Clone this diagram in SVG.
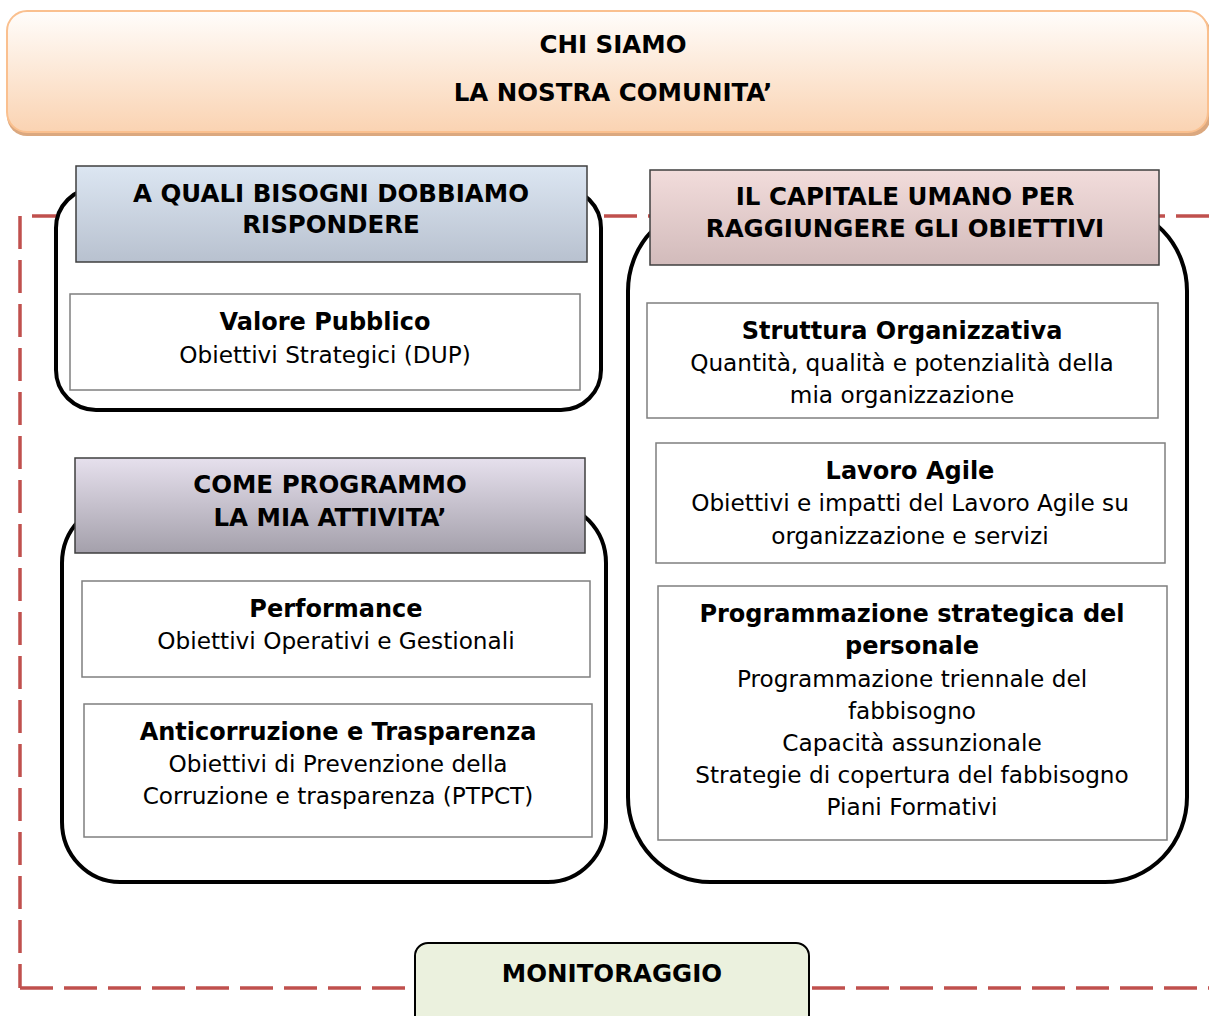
<svg xmlns="http://www.w3.org/2000/svg" width="1209" height="1016" viewBox="0 0 1209 1016">
<defs>
<linearGradient id="gTop" x1="0" y1="0" x2="0" y2="1"><stop offset="0" stop-color="#fffdfb"/><stop offset="1" stop-color="#fad3b2"/></linearGradient>
<linearGradient id="gBlue" x1="0" y1="0" x2="0" y2="1"><stop offset="0" stop-color="#dce6f2"/><stop offset="1" stop-color="#b8c1cf"/></linearGradient>
<linearGradient id="gPurple" x1="0" y1="0" x2="0" y2="1"><stop offset="0" stop-color="#e6e0ed"/><stop offset="1" stop-color="#a4a0ab"/></linearGradient>
<linearGradient id="gPink" x1="0" y1="0" x2="0" y2="1"><stop offset="0" stop-color="#f2dcdb"/><stop offset="1" stop-color="#d2bbbb"/></linearGradient>
<style>
text{font-family:"DejaVu Sans","Liberation Sans",sans-serif;fill:#000;text-anchor:middle}
.cap{font-weight:bold;font-size:24.5px}
.t{font-weight:bold;font-size:24px}
.r{font-size:23.2px}
.container{fill:#fff;stroke:#000;stroke-width:4}
.hdr{stroke:#3f3f3f;stroke-width:1.5}
.box{fill:#fff;stroke:#7f7f7f;stroke-width:1.5}
.dash{fill:none;stroke:#c0504d;stroke-width:3.5;stroke-dasharray:33 11}
</style>
</defs>
<rect width="1209" height="1016" fill="#fff"/>

<g id="connectors">
<path class="dash" d="M20 216 V988"/>
<path class="dash" d="M32 216 H1209"/>
<path class="dash" d="M20 988 H1209"/>
</g>

<g id="chi-siamo">
<rect x="7" y="14" width="1204" height="122" rx="20" fill="#dba87f"/>
<rect x="7" y="11" width="1201" height="121" rx="20" fill="url(#gTop)" stroke="#fac08f" stroke-width="2"/>
<text class="cap" x="613" y="53">CHI SIAMO</text>
<text class="cap" x="613" y="101">LA NOSTRA COMUNITA’</text>
</g>

<g id="bisogni">
<rect class="container" x="56" y="188" width="545" height="222" rx="40" ry="40"/>
<rect class="hdr" x="76" y="166" width="511" height="96" fill="url(#gBlue)"/>
<text class="cap" x="331" y="202">A QUALI BISOGNI DOBBIAMO</text>
<text class="cap" x="331" y="233">RISPONDERE</text>
</g>

<g id="valore-pubblico">
<rect class="box" x="70" y="294" width="510" height="96"/>
<text class="t" x="325" y="330">Valore Pubblico</text>
<text class="r" x="325" y="363">Obiettivi Strategici (DUP)</text>
</g>

<g id="programmo">
<rect class="container" x="62" y="503" width="544" height="379" rx="58" ry="60"/>
<rect class="hdr" x="75" y="458" width="510" height="95" fill="url(#gPurple)"/>
<text class="cap" x="330" y="493">COME PROGRAMMO</text>
<text class="cap" x="330" y="526">LA MIA ATTIVITA’</text>
</g>

<g id="performance">
<rect class="box" x="82" y="581" width="508" height="96"/>
<text class="t" x="336" y="617">Performance</text>
<text class="r" x="336" y="649">Obiettivi Operativi e Gestionali</text>
</g>

<g id="anticorruzione">
<rect class="box" x="84" y="704" width="508" height="133"/>
<text class="t" x="338" y="740">Anticorruzione e Trasparenza</text>
<text class="r" x="338" y="772">Obiettivi di Prevenzione della</text>
<text class="r" x="338" y="804">Corruzione e trasparenza (PTPCT)</text>
</g>

<g id="capitale-umano">
<rect class="container" x="628" y="206" width="559" height="676" rx="82" ry="85"/>
<rect class="hdr" x="650" y="170" width="509" height="95" fill="url(#gPink)"/>
<text class="cap" x="905" y="205">IL CAPITALE UMANO PER</text>
<text class="cap" x="905" y="237">RAGGIUNGERE GLI OBIETTIVI</text>
</g>

<g id="struttura">
<rect class="box" x="647" y="303" width="511" height="115"/>
<text class="t" x="902" y="339">Struttura Organizzativa</text>
<text class="r" x="902" y="371">Quantità, qualità e potenzialità della</text>
<text class="r" x="902" y="403">mia organizzazione</text>
</g>

<g id="lavoro-agile">
<rect class="box" x="656" y="443" width="509" height="120"/>
<text class="t" x="910" y="479">Lavoro Agile</text>
<text class="r" x="910" y="511">Obiettivi e impatti del Lavoro Agile su</text>
<text class="r" x="910" y="544">organizzazione e servizi</text>
</g>

<g id="programmazione">
<rect class="box" x="658" y="586" width="509" height="254"/>
<text class="t" x="912" y="622">Programmazione strategica del</text>
<text class="t" x="912" y="654">personale</text>
<text class="r" x="912" y="687">Programmazione triennale del</text>
<text class="r" x="912" y="719">fabbisogno</text>
<text class="r" x="912" y="751">Capacità assunzionale</text>
<text class="r" x="912" y="783">Strategie di copertura del fabbisogno</text>
<text class="r" x="912" y="815">Piani Formativi</text>
</g>

<g id="monitoraggio">
<rect x="415" y="943" width="394" height="90" rx="13" fill="#ebf1de" stroke="#000" stroke-width="2"/>
<text class="cap" x="612" y="982">MONITORAGGIO</text>
</g>
</svg>
